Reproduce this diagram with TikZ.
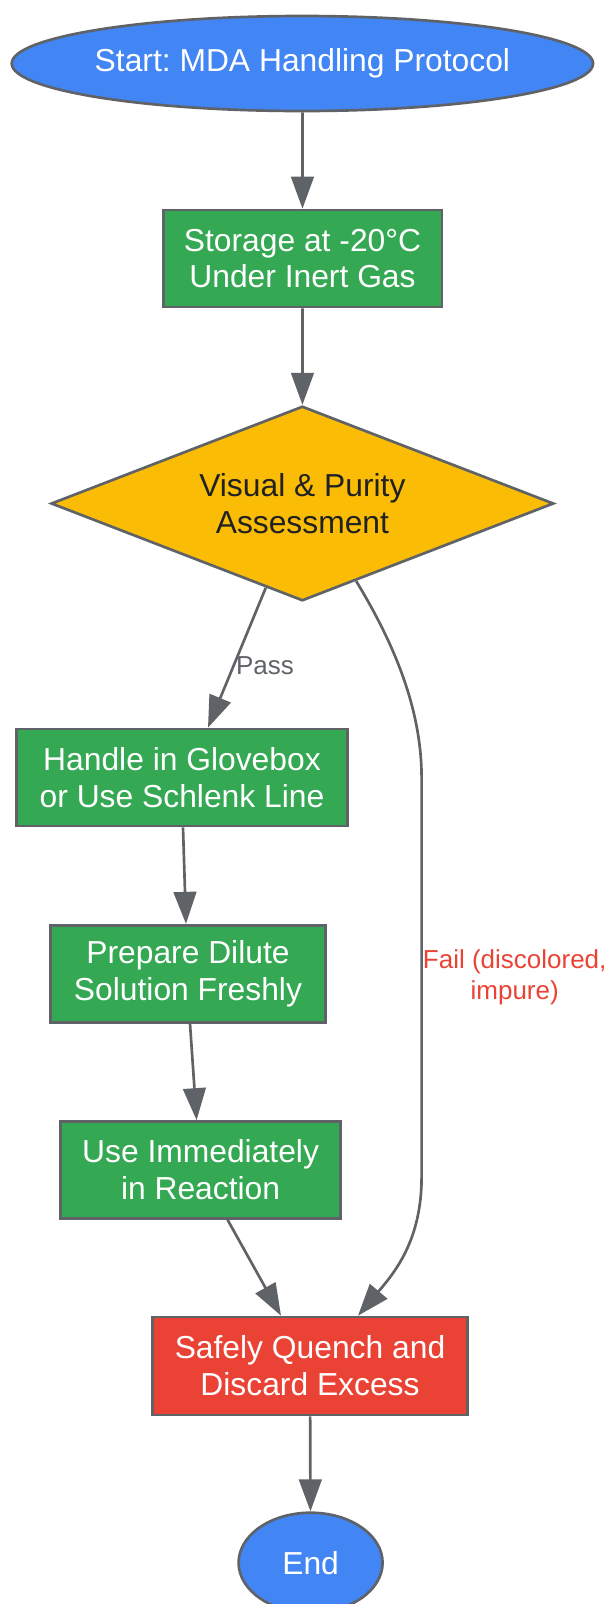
\documentclass[tikz,border=0pt]{standalone}
\usepackage{fontspec}
\setmainfont{Liberation Sans}
\frenchspacing
\usetikzlibrary{arrows.meta,shapes.geometric,calc}

\definecolor{gblue}{HTML}{4285F4}
\definecolor{ggreen}{HTML}{34A853}
\definecolor{gyellow}{HTML}{FBBC05}
\definecolor{gred}{HTML}{EA4335}
\definecolor{ggrey}{HTML}{5F6368}
\definecolor{gdark}{HTML}{202124}

\tikzset{
  boxfont/.style={font=\fontsize{23.85}{27.6}\selectfont},
  stepbox/.style={boxfont, draw=ggrey, line width=2pt, fill=ggreen, text=white,
    minimum height=72.75pt, inner sep=0pt, align=center},
  terminal/.style={boxfont, ellipse, draw=ggrey, line width=2pt, fill=gblue,
    text=white, inner sep=0pt, inner xsep=-8pt},
  decision/.style={boxfont, diamond, aspect=2.58, draw=ggrey, line width=2pt,
    fill=gyellow, text=gdark, minimum width=377pt, minimum height=146pt,
    inner sep=0pt, align=center},
  flow/.style={draw=ggrey, line width=2pt, -{Triangle[length=24pt,width=17pt]}},
  edgelabel/.style={font=\fontsize{19.5}{23}\selectfont, inner sep=0pt, align=center}
}

\begin{document}
\begin{tikzpicture}[x=0.75pt, y=-0.75pt]
    \useasboundingbox (0,0) rectangle (612,1604);

    \node[terminal, minimum width=436pt, minimum height=71.25pt] (start) at (302.4,63.5) {Start: MDA Handling Protocol};
    \node[stepbox, minimum width=209pt] (storage) at (302.5,258.5) {Storage at -20°C\\Under Inert Gas};
    \node[decision] (assess) at (302.4,503.5) {Visual \& Purity\\Assessment};
    \node[stepbox, minimum width=248.7pt] (handle) at (182,777.5) {Handle in Glovebox\\or Use Schlenk Line};
    \node[stepbox, minimum width=206.5pt] (prepare) at (188,973.7) {Prepare Dilute\\Solution Freshly};
    \node[stepbox, minimum width=210.3pt] (use) at (200.6,1170) {Use Immediately\\in Reaction};
    \node[stepbox, fill=gred, minimum width=236pt, minimum height=73.5pt] (quench) at (310,1366) {Safely Quench and\\Discard Excess};
    \node[terminal, minimum width=108pt, minimum height=75pt] (end) at (310.6,1562.7) {End};

    \draw[flow] (start) -- (storage);
    \draw[flow] (storage) -- (assess);
    \draw[flow] ($(assess.south)!0.145!(assess.west)$) -- node[edgelabel, text=ggrey, pos=0.56, anchor=west, xshift=1pt] (pass) {Pass} ($(handle.north)+(26,0)$);
    \draw[flow] ($(handle.south)+(1,0)$) -- ($(prepare.north)+(-2,0)$);
    \draw[flow] ($(prepare.south)+(2,0)$) -- ($(use.north)+(-4,0)$);
    \draw[flow] ($(use.south)+(27,0)$) -- ($(quench.north)+(-29,0)$);
    \draw[flow] ($(assess.south)!0.213!(assess.east)$) .. controls (395,645) and (421.6,710) .. (421.6,778)
        -- node[edgelabel, text=gred, midway, anchor=west] (fail) {Fail (discolored,\\impure)} (421.6,1177)
        .. controls (421.6,1240) and (395,1272) .. ($(quench.north)+(48,0)$);
    \draw[flow] (quench) -- (end);
\end{tikzpicture}
\end{document}
